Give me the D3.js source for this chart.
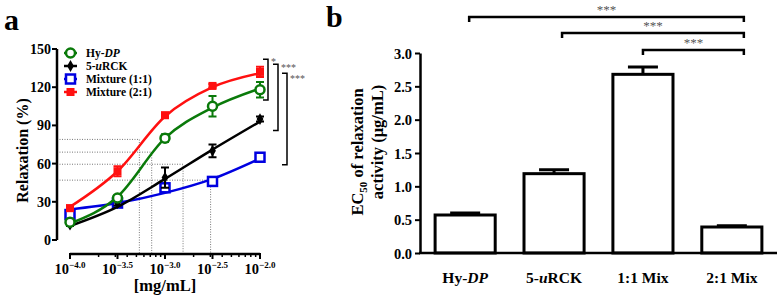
<!DOCTYPE html>
<html lang="en">
<head>
<meta charset="UTF-8">
<title>Relaxation and EC50</title>
<script src="https://d3js.org/d3.v7.min.js"></script>
<style>
  body { margin: 0; background: #fff; }
  svg { display: block; font-family: "Liberation Serif", "Times New Roman", serif; font-weight: bold; }
</style>
</head>
<body>
<svg id="chart" width="778" height="297"></svg>
<script>
// ---- panel a data ----
const doses = [-4.0, -3.5, -3.0, -2.5, -2.0]; // log10 [mg/mL]
const seriesNames = ["Hy-DP", "5-uRCK", "Mixture (1:1)", "Mixture (2:1)"];
const hyDP = [14, 33, 80, 105, 118];
const hyDPErr = [1, 2, 3, 8, 6];
const uRCK = [12, 29, 49, 70, 95];
const uRCKErr = [1, 2, 8, 5, 2];
const mix11 = [20, 29, 41, 46, 65];
const mix11Err = [2, 2, 2, 1, 2];
const mix21 = [25, 54, 98, 121, 132];
const mix21Err = [2, 4, 2, 1.5, 4];
// fitted curves read at the same doses
const hyDPFit = [13, 34, 80, 104, 119];
const uRCKFit = [11, 26, 48, 71, 93];
const mix11Fit = [24, 29, 37, 48, 64];
const mix21Fit = [26, 54, 97, 120, 131];
// EC50 guide lines (log dose, half response)
const ec50Log = [-3.27, -3.14, -2.81, -2.52];
const halfResp = [79, 69, 59.5, 47];
const yTicksA = [0, 30, 60, 90, 120, 150];
const xMajorA = [-4.0, -3.5, -3.0, -2.5, -2.0];
const sigA = [
  { top: 142, bottom: 110, label: "*" },
  { top: 138, bottom: 86, label: "***" },
  { top: 131, bottom: 59, label: "***" }
];

// ---- panel b data ----
const groups = ["Hy-DP", "5-uRCK", "1:1 Mix", "2:1 Mix"];
const ec50 = [0.57, 1.19, 2.68, 0.39];
const ec50Err = [0.03, 0.06, 0.11, 0.02];
const yTicksB = [0, 0.5, 1.0, 1.5, 2.0, 2.5, 3.0];
const sigB = [
  { from: "Hy-DP", to: "2:1 Mix", label: "***" },
  { from: "5-uRCK", to: "2:1 Mix", label: "***" },
  { from: "1:1 Mix", to: "2:1 Mix", label: "***" }
];

const svg = d3.select("#chart");

// panel letters
svg.append("text").attr("x", 4).attr("y", 30).attr("font-size", 30).text("a");
svg.append("text").attr("x", 326).attr("y", 27).attr("font-size", 30).text("b");

// ================= panel a =================
const xA = d3.scaleLinear().domain([-4, -2]).range([70, 260]);
const yA = d3.scaleLinear().domain([0, 150]).range([240, 49]);
const axisXA = 57, axisYA = 254;

const gA = svg.append("g");

// dotted EC50 guides
ec50Log.forEach((lx, i) => {
  gA.append("path")
    .attr("d", `M${axisXA},${yA(halfResp[i])}H${xA(lx)}V${axisYA}`)
    .attr("fill", "none")
    .attr("stroke", "#777")
    .attr("stroke-width", 1)
    .attr("stroke-dasharray", "1,1.5");
});

// y axis
gA.append("line").attr("x1", axisXA).attr("x2", axisXA)
  .attr("y1", yA(150)).attr("y2", yA(0))
  .attr("stroke", "#000").attr("stroke-width", 2.5);
yTicksA.forEach(t => {
  gA.append("line").attr("x1", axisXA - 5).attr("x2", axisXA)
    .attr("y1", yA(t)).attr("y2", yA(t)).attr("stroke", "#000").attr("stroke-width", 2);
  gA.append("text").attr("x", axisXA - 6).attr("y", yA(t) + 5)
    .attr("text-anchor", "end").attr("font-size", 14).text(t);
});

// x axis (log with minor ticks)
gA.append("line").attr("x1", xA(-4)).attr("x2", xA(-2))
  .attr("y1", axisYA).attr("y2", axisYA)
  .attr("stroke", "#000").attr("stroke-width", 2.5);
const minor = [];
for (let e = -4; e < -2; e++) {
  for (let k = 2; k <= 9; k++) minor.push(e + Math.log10(k));
}
minor.forEach(m => {
  gA.append("line").attr("x1", xA(m)).attr("x2", xA(m))
    .attr("y1", axisYA).attr("y2", axisYA + 3).attr("stroke", "#000").attr("stroke-width", 1.5);
});
xMajorA.forEach(m => {
  gA.append("line").attr("x1", xA(m)).attr("x2", xA(m))
    .attr("y1", axisYA - 1).attr("y2", axisYA + 5).attr("stroke", "#000").attr("stroke-width", 2);
  const t = gA.append("text").attr("x", xA(m)).attr("y", axisYA + 20)
    .attr("text-anchor", "middle").attr("font-size", 14.5);
  t.append("tspan").text("10");
  t.append("tspan").attr("dy", -6).attr("font-size", 9).text(d3.format(".1f")(m));
});

// axis titles
gA.append("text").attr("transform", `translate(28,${(yA(0) + yA(150)) / 2 + 6}) rotate(-90)`)
  .attr("text-anchor", "middle").attr("font-size", 16).text("Relaxation (%)");
gA.append("text").attr("x", xA(-3)).attr("y", 291)
  .attr("text-anchor", "middle").attr("font-size", 16.5).text("[mg/mL]");

// series
const series = [
  { name: seriesNames[0], vals: hyDP, err: hyDPErr, fit: hyDPFit, color: "#0a7a0a", shape: "circle" },
  { name: seriesNames[1], vals: uRCK, err: uRCKErr, fit: uRCKFit, color: "#000000", shape: "diamond" },
  { name: seriesNames[2], vals: mix11, err: mix11Err, fit: mix11Fit, color: "#0000e0", shape: "openSquare" },
  { name: seriesNames[3], vals: mix21, err: mix21Err, fit: mix21Fit, color: "#ff1010", shape: "square" }
];

const line = d3.line()
  .x((d, i) => xA(doses[i]))
  .y(d => yA(d))
  .curve(d3.curveMonotoneX);

function drawMarker(g, shape, color, cx, cy) {
  if (shape === "circle") {
    g.append("circle").attr("cx", cx).attr("cy", cy).attr("r", 4.5)
      .attr("fill", "#fff").attr("stroke", color).attr("stroke-width", 2.5);
  } else if (shape === "diamond") {
    g.append("path").attr("d", d3.symbol(d3.symbolDiamond, 40)())
      .attr("transform", `translate(${cx},${cy})`).attr("fill", color);
  } else if (shape === "openSquare") {
    g.append("rect").attr("x", cx - 4.5).attr("y", cy - 4.5).attr("width", 9).attr("height", 9)
      .attr("fill", "#fff").attr("stroke", color).attr("stroke-width", 2.5);
  } else {
    g.append("rect").attr("x", cx - 4).attr("y", cy - 4).attr("width", 8).attr("height", 8)
      .attr("fill", color);
  }
}

// draw back-to-front: blue, black, green, red
[2, 1, 0, 3].forEach(si => {
  const s = series[si];
  gA.append("path").datum(s.fit).attr("d", line)
    .attr("fill", "none").attr("stroke", s.color).attr("stroke-width", 2.5);
  s.vals.forEach((v, i) => {
    const cx = xA(doses[i]);
    const e = s.err[i];
    gA.append("path")
      .attr("d", `M${cx},${yA(v - e)}V${yA(v + e)}M${cx - 4},${yA(v + e)}H${cx + 4}M${cx - 4},${yA(v - e)}H${cx + 4}`)
      .attr("stroke", s.color).attr("stroke-width", 2).attr("fill", "none");
    drawMarker(gA, s.shape, s.color, cx, yA(v));
  });
});

// legend
series.forEach((s, i) => {
  const ly = 53 + i * 13;
  gA.append("line").attr("x1", 64).attr("x2", 77).attr("y1", ly).attr("y2", ly)
    .attr("stroke", s.color).attr("stroke-width", 2.5);
  drawMarker(gA, s.shape, s.color, 70.5, ly);
  const t = gA.append("text").attr("x", 86).attr("y", ly + 4).attr("font-size", 11.5);
  if (s.name === "Hy-DP") {
    t.append("tspan").text("Hy-");
    t.append("tspan").attr("font-style", "italic").text("DP");
  } else if (s.name === "5-uRCK") {
    t.append("tspan").text("5-");
    t.append("tspan").attr("font-style", "italic").text("u");
    t.append("tspan").text("RCK");
  } else {
    t.text(s.name);
  }
});

// significance brackets
const sigAX = [263, 273, 282];
const sigAdy = [6, 7, 9];
sigA.forEach((b, i) => {
  const x = sigAX[i];
  gA.append("path")
    .attr("d", `M${x},${yA(b.top)}H${x + 5}V${yA(b.bottom)}H${x}`)
    .attr("fill", "none").attr("stroke", "#000").attr("stroke-width", 1.5);
  gA.append("text").attr("x", x + 8).attr("y", yA(b.top) + sigAdy[i])
    .attr("font-size", 10).attr("font-weight", "normal").attr("fill", "#555").text(b.label);
});

// ================= panel b =================
const xB = d3.scaleBand().domain(groups).range([420, 777]).paddingInner(0.324).paddingOuter(0.17);
const yB = d3.scaleLinear().domain([0, 3]).range([253, 53]);
const gB = svg.append("g");

// y axis
gB.append("g").attr("transform", "translate(420,0)")
  .call(d3.axisLeft(yB).tickValues(yTicksB).tickFormat(d3.format(".1f")).tickSize(5).tickSizeOuter(0))
  .call(g => g.select(".domain").attr("stroke-width", 2.5))
  .call(g => g.selectAll(".tick line").attr("stroke-width", 2))
  .call(g => g.selectAll(".tick text")
    .attr("font-family", "Liberation Serif, serif").attr("font-weight", "bold")
    .attr("font-size", 14.5).attr("fill", "#000").attr("dy", "0.35em"));

// bars
groups.forEach((g, i) => {
  const x0 = xB(g), w = xB.bandwidth(), cx = x0 + w / 2;
  gB.append("path")
    .attr("d", `M${cx},${yB(ec50[i])}V${yB(ec50[i] + ec50Err[i])}M${cx - 15},${yB(ec50[i] + ec50Err[i])}H${cx + 15}`)
    .attr("stroke", "#000").attr("stroke-width", 3).attr("fill", "none");
  gB.append("rect").attr("x", x0).attr("y", yB(ec50[i]))
    .attr("width", w).attr("height", yB(0) - yB(ec50[i]))
    .attr("fill", "#fff").attr("stroke", "#000").attr("stroke-width", 3);
});

// x axis line
gB.append("line").attr("x1", 419).attr("x2", 777).attr("y1", yB(0)).attr("y2", yB(0))
  .attr("stroke", "#000").attr("stroke-width", 2.5);

// category labels
groups.forEach(g => {
  const t = gB.append("text").attr("x", xB(g) + xB.bandwidth() / 2).attr("y", 283)
    .attr("text-anchor", "middle").attr("font-size", 15.5);
  if (g === "Hy-DP") {
    t.append("tspan").text("Hy-");
    t.append("tspan").attr("font-style", "italic").text("DP");
  } else if (g === "5-uRCK") {
    t.append("tspan").text("5-");
    t.append("tspan").attr("font-style", "italic").text("u");
    t.append("tspan").text("RCK");
  } else {
    t.text(g);
  }
});

// y title
const yt1 = gB.append("text").attr("transform", `translate(363,152) rotate(-90)`)
  .attr("text-anchor", "middle").attr("font-size", 16.5);
yt1.append("tspan").text("EC");
yt1.append("tspan").attr("dy", 4).attr("font-size", 11).text("50");
yt1.append("tspan").attr("dy", -4).text(" of relaxation");
gB.append("text").attr("transform", `translate(383,142) rotate(-90)`)
  .attr("text-anchor", "middle").attr("font-size", 16.5).text("activity (\u03bcg/mL)");

// significance brackets
const sigBY = [17, 33, 50];
const sigStart = [4, 8, 0];
sigB.forEach((b, i) => {
  const x1 = xB(b.from) + xB.bandwidth() / 2 + sigStart[i];
  const x2 = xB(b.to) + xB.bandwidth() / 2 + 12;
  const y = sigBY[i];
  gB.append("path").attr("d", `M${x1},${y + 5}V${y}H${x2}V${y + 5}`)
    .attr("fill", "none").attr("stroke", "#000").attr("stroke-width", 2.5);
  gB.append("text").attr("x", (x1 + x2) / 2).attr("y", y - 3)
    .attr("text-anchor", "middle").attr("font-size", 13).attr("font-weight", "normal")
    .attr("fill", "#555").text(b.label);
});
</script>
</body>
</html>
